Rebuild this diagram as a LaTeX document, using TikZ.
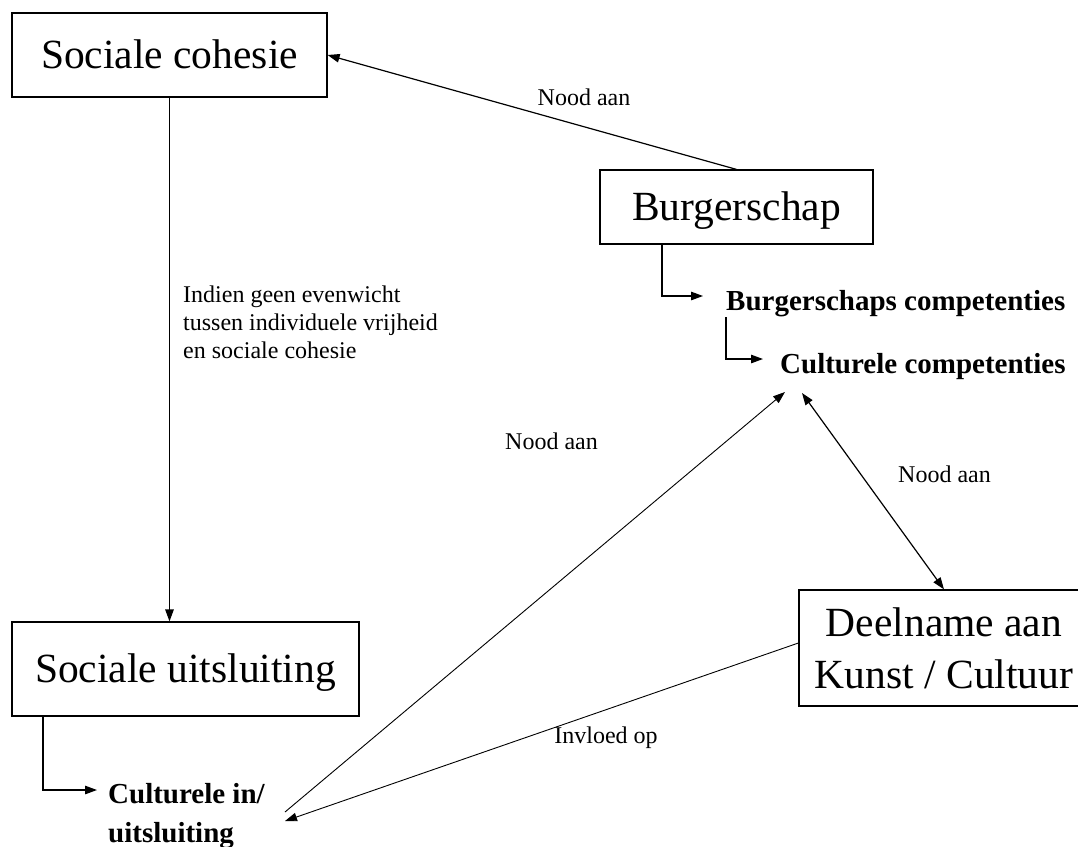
\documentclass[tikz,border=0pt]{standalone}
\usepackage{fontspec}
\setmainfont{Liberation Serif}
\usetikzlibrary{arrows.meta}
\tikzset{
  boxbase/.style={draw, line width=1.2pt, inner sep=0pt},
  box/.style={boxbase, font=\fontsize{41.5}{50}\selectfont, text height=27.5pt, text depth=0pt},
  boldtxt/.style={font=\fontsize{29}{39}\selectfont\bfseries, inner sep=0pt},
  lab/.style={font=\fontsize{24}{28}\selectfont, inner sep=0pt},
  arr/.style={-{Triangle[length=12pt,width=8.5pt]}, line width=1.2pt},
  thinarr/.style={-{Triangle[length=12pt,width=8.5pt]}, line width=0.9pt},
  twoarr/.style={{Triangle[length=12pt,width=8.5pt]}-{Triangle[length=12pt,width=8.5pt]}, line width=1.2pt}
}
\begin{document}
\begin{tikzpicture}[x=1pt,y=-1pt]
\useasboundingbox (0,0) rectangle (1078,846);
\fill[white] (0,0) rectangle (1078,846);
\clip (0,0) rectangle (1078,846);

% boxes
\node[box, minimum width=315pt, minimum height=84pt] (sc) at (169.5,55) {Sociale cohesie};
\node[box, minimum width=273pt, minimum height=74pt] (bu) at (736.5,207) {Burgerschap};
\node[box, minimum width=347pt, minimum height=94pt] (su) at (185.5,669) {Sociale uitsluiting};
\node[boxbase, minimum width=290pt, minimum height=116pt, align=center,
      font=\fontsize{41.5}{52}\selectfont] (dk) at (944,648) {Deelname aan\\Kunst / Cultuur};

% bold texts
\node[boldtxt, anchor=base west] (bc) at (726,310) {Burgerschaps competenties};
\node[boldtxt, anchor=base west] (cc) at (780,373) {Culturele competenties};
\node[boldtxt, anchor=north west, align=left] (ci) at (108,783) {Culturele in/\\uitsluiting};

% free ends
\coordinate (bcin) at (703,296);
\coordinate (ccin) at (763,359);
\coordinate (ciin) at (97,790);
\coordinate (cilo) at (285,812);
\coordinate (citip) at (285,821);
\coordinate (cctipa) at (785,392);
\coordinate (cctipb) at (802,393);

% connectors
\draw[arr] (bu.north) -- (sc.east);
\draw[arr] (sc.south) -- (sc.south |- su.north);
\draw[arr] ([xshift=-74.5pt]bu.south) |- (bcin);
\draw[arr] ([yshift=-7pt]bc.base west) |- (ccin);
\draw[arr] ([xshift=-142.5pt]su.south) |- (ciin);
\draw[thinarr] (cilo) -- (cctipa);
\draw[twoarr] (cctipb) -- (dk.north);
\draw[thinarr] ([yshift=5pt]dk.west) -- (citip);

% labels
\node[lab, anchor=base] (l1) at (584,105) {Nood aan};
\node[lab, anchor=north west, align=left] (l2) at (183,286) {Indien geen evenwicht\\tussen individuele vrijheid\\en sociale cohesie};
\node[lab, anchor=base west] (l3) at (505,449) {Nood aan};
\node[lab, anchor=base west] (l4) at (898,482) {Nood aan};
\node[lab, anchor=base] (l5) at (606,743) {Invloed op};
\end{tikzpicture}
\end{document}
